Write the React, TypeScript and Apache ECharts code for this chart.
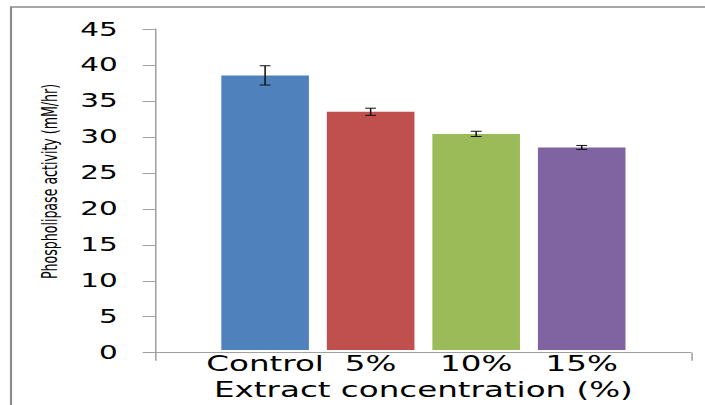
import React, { useEffect, useRef } from "react";
import * as echarts from "echarts";

const categories = ["Control", "5%", "10%", "15%"];
const activity = [38.5, 33.4, 30.3, 28.4];
const errors = [1.35, 0.5, 0.37, 0.28];
const barColors = ["#4F81BD", "#C0504D", "#9BBB59", "#8064A2"];
const yMin = 0;
const yMax = 45;
const yInterval = 5;
const yTitle = "Phospholipase activity (mM/hr)";
const xTitle = "Extract concentration (%)";

const SX = 1.55;
const W = 705 / SX;
const H = 405;

export default function App() {
  const ref = useRef<HTMLDivElement>(null);
  useEffect(() => {
    if (!ref.current) return;
    const chart = echarts.init(ref.current, null, { renderer: "svg", width: W, height: H });
    const axisGray = "#a0a0a0";
    const gridTop = 29;
    const gridBottom = 52.3;
    chart.setOption({
      animation: false,
      backgroundColor: "#ffffff",
      grid: [
        { left: 100, right: W - 445.8, top: gridTop, bottom: gridBottom },
        { left: 137, right: 45.5, top: gridTop, bottom: gridBottom },
      ],
      xAxis: [
        {
          gridIndex: 0,
          type: "value",
          min: 0,
          max: 1,
          interval: 1,
          axisLine: { show: true, lineStyle: { color: axisGray, width: 1 } },
          axisTick: { show: true, length: 8, lineStyle: { color: axisGray } },
          axisLabel: { show: false },
          splitLine: { show: false },
        },
        {
          gridIndex: 1,
          type: "category",
          data: categories,
          axisLine: { show: false },
          axisTick: { show: false },
          axisLabel: {
            interval: 0,
            margin: 3,
            color: "#000",
            fontFamily: "DejaVu Sans",
            fontSize: 21,
          },
          name: xTitle,
          nameLocation: "middle",
          nameGap: 21,
          nameTextStyle: { color: "#000", fontFamily: "DejaVu Sans", fontSize: 21 },
        },
      ],
      yAxis: [
        {
          gridIndex: 0,
          type: "value",
          min: yMin,
          max: yMax,
          interval: yInterval,
          axisLine: { show: true, lineStyle: { color: axisGray, width: 1 } },
          axisTick: { show: true, inside: false, length: 8, lineStyle: { color: axisGray } },
          axisLabel: { margin: 24, color: "#000", fontFamily: "DejaVu Sans", fontSize: 19 },
          splitLine: { show: false },
        },
        {
          gridIndex: 1,
          type: "value",
          min: yMin,
          max: yMax,
          interval: yInterval,
          show: false,
          splitLine: { show: false },
        },
      ],
      graphic: [
        {
          type: "rect",
          shape: { x: 7.1, y: 7, width: 2000, height: 2000 },
          style: { fill: "none", stroke: "#8a8a8a", lineWidth: 1.4 },
          silent: true,
        },
        {
          type: "text",
          x: 31.6,
          y: 181.5,
          rotation: Math.PI / 2,
          style: {
            text: yTitle,
            fontFamily: "DejaVu Sans Condensed",
            fontSize: 14,
            fill: "#000",
            align: "center",
            verticalAlign: "middle",
          },
        },
      ],
      series: [
        {
          type: "bar",
          xAxisIndex: 1,
          yAxisIndex: 1,
          barWidth: "83%",
          data: activity.map((v, i) => ({ value: v, itemStyle: { color: barColors[i] } })),
        },
        {
          type: "custom",
          xAxisIndex: 1,
          yAxisIndex: 1,
          data: activity.map((v, i) => [i, v - errors[i], v + errors[i]]),
          renderItem: (_params: any, api: any) => {
            const idx = api.value(0);
            const lo = api.coord([idx, api.value(1)]);
            const hi = api.coord([idx, api.value(2)]);
            const hw = 3.5;
            const style = { stroke: "#111", lineWidth: 1 };
            return {
              type: "group",
              children: [
                { type: "line", shape: { x1: hi[0], y1: hi[1], x2: lo[0], y2: lo[1] }, style },
                { type: "line", shape: { x1: hi[0] - hw, y1: hi[1], x2: hi[0] + hw, y2: hi[1] }, style },
                { type: "line", shape: { x1: lo[0] - hw, y1: lo[1], x2: lo[0] + hw, y2: lo[1] }, style },
              ],
            };
          },
          z: 10,
        },
      ],
    });
    return () => chart.dispose();
  }, []);
  return (
    <div
      style={{
        position: "fixed",
        left: 0,
        top: 0,
        width: 705,
        height: 405,
        overflow: "hidden",
        background: "#fff",
      }}
    >
      <div
        ref={ref}
        style={{
          width: W,
          height: H,
          transform: `scaleX(${SX})`,
          transformOrigin: "0 0",
        }}
      />
    </div>
  );
}
